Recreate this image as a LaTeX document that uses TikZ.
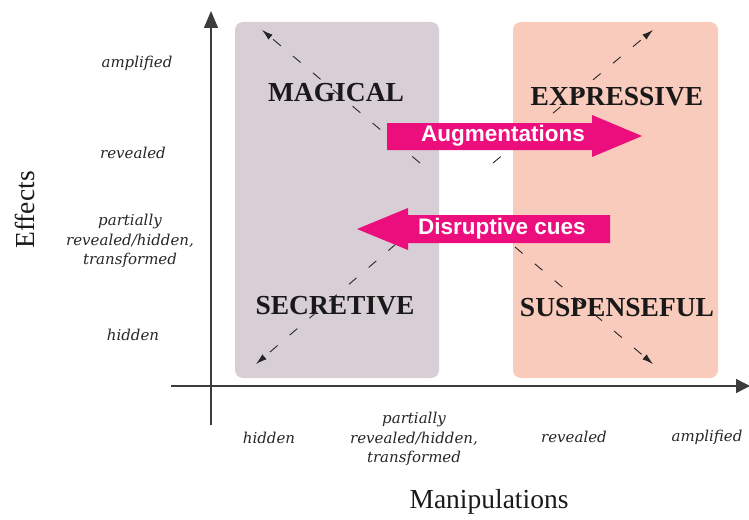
\documentclass[tikz,border=0pt]{standalone}
\usepackage{fontspec}
\setmainfont{Liberation Serif}
\newfontfamily\labfont{DejaVu Serif}
\newfontfamily\arrfont{Liberation Sans}
\usetikzlibrary{arrows.meta}
\definecolor{pinkarrow}{RGB}{236,14,125}
\definecolor{boxleft}{RGB}{216,206,213}
\definecolor{boxright}{RGB}{248,203,188}
\definecolor{axisgray}{RGB}{60,60,60}
\tikzset{
  quadbox/.style={draw=none, rounded corners=8pt, inner sep=0pt},
  quadlabel/.style={font=\fontsize{27.5}{29}\selectfont\bfseries, text=black!90},
  ticklabel/.style={font=\labfont\itshape\fontsize{15}{19.5}\selectfont, align=center, text=black!85},
  axistitle/.style={font=\fontsize{27.5}{29}\selectfont, text=black!90},
  dasharrow/.style={draw=black!85, line width=0.9pt, dash pattern=on 10pt off 16pt, -{Latex[length=11pt,width=6.5pt]}},
  axisline/.style={draw=axisgray, line width=1.3pt},
  bigarrow/.style={fill=pinkarrow, draw=none},
  arrowtext/.style={font=\arrfont\bfseries\fontsize{22.5}{25}\selectfont, text=white, inner sep=0pt}
}
\begin{document}
\begin{tikzpicture}[x=1pt,y=-1pt]
\useasboundingbox (0,0) rectangle (749,519);
% boxes
\node[quadbox, fill=boxleft, minimum width=204pt, minimum height=356pt] (lbox) at (337,200) {};
\node[quadbox, fill=boxright, minimum width=205pt, minimum height=356pt] (rbox) at (615.5,200) {};
% axes
\coordinate (yb) at (211,425);
\coordinate (yt) at (211,11);
\coordinate (xl) at (171,386);
\coordinate (xr) at (750,386);
\draw[axisline, -{Triangle[length=17pt,width=14pt]}] (yb) -- (yt);
\draw[axisline, -{Triangle[length=14pt,width=14pt]}] (xl) -- (xr);
% quadrant labels
\node[quadlabel] (magical) at (336,93) {MAGICAL};
\node[quadlabel] (expressive) at (617,97) {EXPRESSIVE};
\node[quadlabel] (secretive) at (335,306) {SECRETIVE};
\node[quadlabel] (suspenseful) at (617,308) {SUSPENSEFUL};
% dashed arrows
\coordinate (ltS) at (420,163);
\coordinate (ltE) at (262,30);
\coordinate (rtS) at (493,163);
\coordinate (rtE) at (653,30);
\coordinate (lbS) at (396,244);
\coordinate (lbE) at (256,364);
\coordinate (rbS) at (515,247);
\coordinate (rbE) at (653,364);
\draw[dasharrow] (ltS) -- (ltE);
\draw[dasharrow] (rtS) -- (rtE);
\draw[dasharrow] (lbS) -- (lbE);
\draw[dasharrow] (rbS) -- (rbE);
% big pink arrows
\fill[bigarrow] (387,123) -- (592,123) -- (592,115) -- (642,136) -- (592,157) -- (592,150) -- (387,150) -- cycle;
\node[arrowtext] (augm) at (503,136) {Augmentations};
\fill[bigarrow] (610,215) -- (408,215) -- (408,208) -- (357,229) -- (408,250) -- (408,243) -- (610,243) -- cycle;
\node[arrowtext] (disr) at (502,229) {Disruptive cues};
% y tick labels
\node[ticklabel] (yamp) at (137,63) {amplified};
\node[ticklabel] (yrev) at (133,153) {revealed};
\node[ticklabel] (ypart) at (130,241) {partially\\revealed/hidden,\\transformed};
\node[ticklabel] (yhid) at (133,335) {hidden};
% x tick labels
\node[ticklabel] (xhid) at (269,438) {hidden};
\node[ticklabel] (xpart) at (414,439) {partially\\revealed/hidden,\\transformed};
\node[ticklabel] (xrev) at (574,437) {revealed};
\node[ticklabel] (xamp) at (707,437) {amplified};
% axis titles
\node[axistitle] (manip) at (489,502) {Manipulations};
\node[axistitle, rotate=90] (effects) at (25,210) {Effects};
\end{tikzpicture}
\end{document}
